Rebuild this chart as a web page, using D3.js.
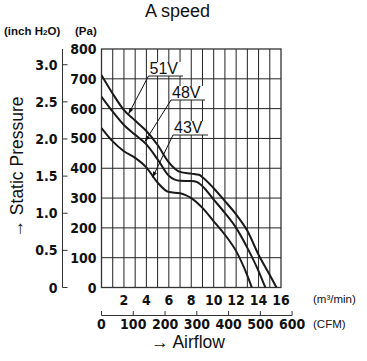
<!DOCTYPE html>
<html>
<head>
<meta charset="utf-8">
<script src="https://cdn.jsdelivr.net/npm/d3@7"></script>
<style>
  body { margin: 0; background: #fff; }
  svg { display: block; }
  text { fill: #111; }
  .tick-lbl { font-family: "Liberation Sans Narrow", "DejaVu Sans Condensed", sans-serif; font-weight: bold; font-size: 14px; }
  .unit { font-family: "Liberation Sans", Arial, sans-serif; font-size: 11.5px; }
</style>
</head>
<body>
<div id="chart"></div>
<script>
// data (x in m3/min, y in Pa)
var flow51 = [0, 1, 2, 3, 4, 5, 6, 7, 8, 8.7, 9, 10, 11, 12, 13, 14, 15, 15.6];
var pres51 = [712, 650, 595, 560, 525, 478, 420, 388, 382, 378, 370, 333, 290, 245, 190, 110, 42, 0];
var flow48 = [0, 1, 2, 3, 4, 5, 6, 7, 8, 8.5, 9, 10, 11, 12, 13, 14, 14.6];
var pres48 = [640, 590, 545, 512, 480, 430, 375, 358, 357, 354, 340, 295, 250, 200, 133, 55, 0];
var flow43 = [0, 1, 2, 3, 4, 5, 6, 7, 7.5, 8, 9, 10, 11, 12, 13, 13.4];
var pres43 = [535, 490, 457, 435, 403, 352, 320, 316, 310, 300, 267, 222, 177, 122, 40, 0];

var paTicks = [0, 100, 200, 300, 400, 500, 600, 700, 800];
var inchTicks = [0, 0.5, 1.0, 1.5, 2.0, 2.5, 3.0];
var flowTicks = [2, 4, 6, 8, 10, 12, 14, 16];
var cfmTicks = [0, 100, 200, 300, 400, 500, 600];

var svgWidth = 367;
var svgHeight = 361;

var margin = { top: 49, left: 101.5 };
var width = 179.5;
var height = 238.5;

var svg = d3.select("#chart").append("svg")
  .attr("width", svgWidth)
  .attr("height", svgHeight);

var x = d3.scaleLinear().domain([0, 16]).range([margin.left, margin.left + width]);
var y = d3.scaleLinear().domain([0, 800]).range([margin.top + height, margin.top]);
var yIn = d3.scaleLinear().domain([0, 800 / 249.09]).range([margin.top + height, margin.top]);
var xCfm = d3.scaleLinear().domain([0, 600]).range([x(0), x(600 / 35.315)]);

// grid
var grid = svg.append("g").attr("stroke", "#222").attr("stroke-width", 1);
grid.selectAll("line.v").data(d3.range(1, 16)).enter().append("line")
  .attr("x1", d => x(d)).attr("x2", d => x(d))
  .attr("y1", y(800)).attr("y2", y(0));
grid.selectAll("line.h").data(d3.range(100, 800, 100)).enter().append("line")
  .attr("x1", x(0)).attr("x2", x(16))
  .attr("y1", d => y(d)).attr("y2", d => y(d));

svg.append("rect")
  .attr("x", x(0)).attr("y", y(800))
  .attr("width", x(16) - x(0)).attr("height", y(0) - y(800))
  .attr("fill", "none").attr("stroke", "#333").attr("stroke-width", 1.3);

// curves
svg.append("clipPath").attr("id", "clip").append("rect")
  .attr("x", x(0)).attr("y", y(800))
  .attr("width", x(16) - x(0)).attr("height", y(0) - y(800));

var line = d3.line()
  .x(d => x(d[0]))
  .y(d => y(d[1]))
  .curve(d3.curveMonotoneX);

var series = [
  d3.zip(flow51, pres51),
  d3.zip(flow48, pres48),
  d3.zip(flow43, pres43)
];

svg.append("g").attr("clip-path", "url(#clip)")
  .selectAll("path").data(series).enter().append("path")
  .attr("d", line)
  .attr("fill", "none")
  .attr("stroke", "#1a1a1a")
  .attr("stroke-width", 2);

// voltage labels with leader arrows
var labels = [
  { t: "51V", tx: 148.5, ty: 75, ux2: 183, tip: [128.5, 114] },
  { t: "48V", tx: 171, ty: 99, ux2: 205, tip: [145, 141.5] },
  { t: "43V", tx: 173, ty: 134, ux2: 208, tip: [152.5, 177.5] }
];

svg.append("defs").append("marker")
  .attr("id", "arr").attr("viewBox", "0 0 10 10")
  .attr("refX", 10).attr("refY", 5)
  .attr("markerWidth", 6).attr("markerHeight", 6)
  .attr("orient", "auto")
  .append("path").attr("d", "M0,1.5L10,5L0,8.5z").attr("fill", "#111");

var lab = svg.append("g").selectAll("g").data(labels).enter().append("g");
lab.append("rect")
  .attr("x", d => d.tx - 1).attr("y", d => d.ty - 13)
  .attr("width", d => d.ux2 - d.tx + 1).attr("height", 14)
  .attr("fill", "#fff");
lab.append("text")
  .attr("x", d => d.tx + 1).attr("y", d => d.ty - 1)
  .attr("font-family", "Liberation Sans, Arial, sans-serif")
  .attr("font-size", 16)
  .text(d => d.t);
lab.append("line")
  .attr("x1", d => d.tx).attr("x2", d => d.ux2)
  .attr("y1", d => d.ty + 1).attr("y2", d => d.ty + 1)
  .attr("stroke", "#222").attr("stroke-width", 1);
lab.append("line")
  .attr("x1", d => d.tx).attr("y1", d => d.ty + 1)
  .attr("x2", d => d.tip[0]).attr("y2", d => d.tip[1])
  .attr("stroke", "#111").attr("stroke-width", 1)
  .attr("marker-end", "url(#arr)");

// Pa labels
svg.append("g").selectAll("text").data(paTicks).enter().append("text")
  .attr("class", "tick-lbl")
  .attr("x", 96.5).attr("y", d => y(d) + 5)
  .attr("text-anchor", "end")
  .text(d => d);

// inch H2O axis
var inAx = svg.append("g").attr("stroke", "#333").attr("stroke-width", 1);
inAx.append("line").attr("x1", 62.5).attr("x2", 62.5).attr("y1", y(800)).attr("y2", y(0));
inAx.selectAll("line.t").data(inchTicks).enter().append("line")
  .attr("x1", 62.5).attr("x2", 67.5)
  .attr("y1", d => yIn(d)).attr("y2", d => yIn(d));
svg.append("g").selectAll("text").data(inchTicks).enter().append("text")
  .attr("class", "tick-lbl")
  .attr("x", 57.5).attr("y", d => yIn(d) + 5)
  .attr("text-anchor", "end")
  .text(d => d === 0 ? "0" : d.toFixed(1));

// m3/min labels
svg.append("g").selectAll("text").data(flowTicks).enter().append("text")
  .attr("class", "tick-lbl")
  .attr("x", d => x(d)).attr("y", 304.5)
  .attr("text-anchor", "middle")
  .text(d => d);

// CFM axis
var cfm = svg.append("g").attr("stroke", "#333").attr("stroke-width", 1);
cfm.append("line").attr("x1", xCfm(0)).attr("x2", xCfm(600)).attr("y1", 315.5).attr("y2", 315.5);
cfm.selectAll("line.t").data(cfmTicks).enter().append("line")
  .attr("x1", d => xCfm(d)).attr("x2", d => xCfm(d))
  .attr("y1", 315.5).attr("y2", 311);
svg.append("g").selectAll("text").data(cfmTicks).enter().append("text")
  .attr("class", "tick-lbl")
  .attr("x", d => xCfm(d)).attr("y", 329)
  .attr("text-anchor", "middle")
  .text(d => d);

// unit texts
svg.append("text").attr("class", "unit").attr("x", 313).attr("y", 303).text("(m³/min)");
svg.append("text").attr("class", "unit").attr("x", 313).attr("y", 327.5).text("(CFM)");
var inch = svg.append("text").attr("class", "unit").attr("x", 4).attr("y", 35).attr("font-weight", "bold");
inch.append("tspan").text("(inch H");
inch.append("tspan").attr("font-size", 8).text("2");
inch.append("tspan").text("O)");
svg.append("text").attr("class", "unit").attr("x", 75).attr("y", 35).attr("font-weight", "bold").text("(Pa)");

// titles
svg.append("text")
  .attr("x", 177.5).attr("y", 17)
  .attr("text-anchor", "middle")
  .attr("font-family", "Liberation Sans, Arial, sans-serif")
  .attr("font-size", 18)
  .text("A speed");

svg.append("text")
  .attr("x", 188).attr("y", 348)
  .attr("text-anchor", "middle")
  .attr("font-family", "Liberation Sans, Arial, sans-serif")
  .attr("font-size", 17.5)
  .text("→ Airflow");

svg.append("text")
  .attr("transform", "translate(23, 167) rotate(-90)")
  .attr("text-anchor", "middle")
  .attr("font-family", "Liberation Sans, Arial, sans-serif")
  .attr("font-size", 17.5)
  .text("→ Static Pressure");
</script>
</body>
</html>
